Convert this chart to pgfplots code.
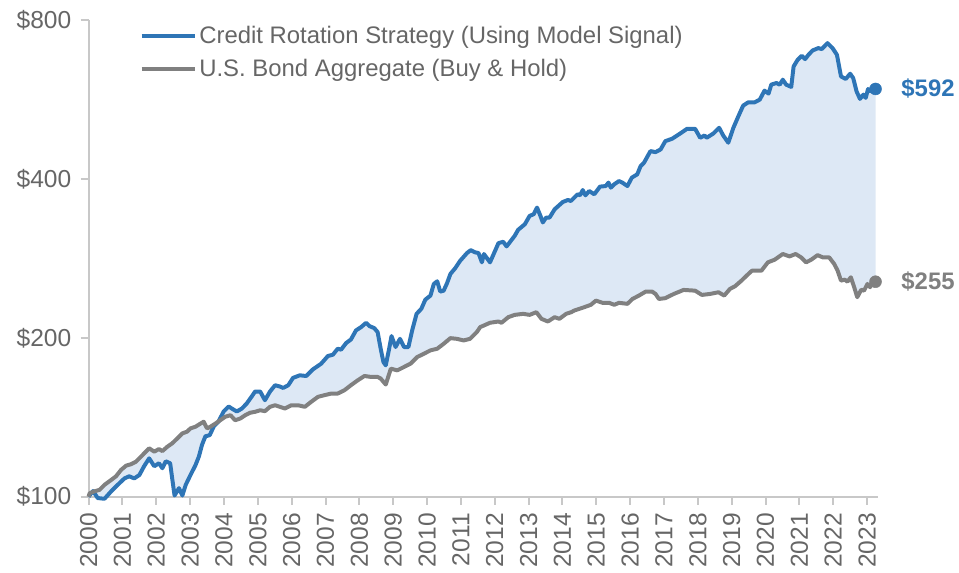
\documentclass[border=0pt]{standalone}
\usepackage{pgfplots}
\pgfplotsset{compat=1.18}
\usepgfplotslibrary{fillbetween}
\usepackage{fontspec}
\setmainfont{Liberation Sans}
\definecolor{cblue}{HTML}{2E75B6}
\definecolor{cgray}{HTML}{808080}
\definecolor{cfill}{HTML}{DDE8F5}
\definecolor{ctext}{HTML}{666666}
\definecolor{caxis}{HTML}{C8C8C8}

\pgfplotstableread{
x y
2000.00 100
2000.13 102.5
2000.27 99.4
2000.47 99.1
2000.67 102.4
2000.86 105.3
2001.06 108.3
2001.20 109.3
2001.35 108.3
2001.50 109.9
2001.64 114.2
2001.79 118.2
2001.94 114.2
2002.08 115.7
2002.18 113.2
2002.28 116.7
2002.41 115.7
2002.47 108.3
2002.54 100.5
2002.67 103.8
2002.77 100.5
2002.87 105.3
2003.01 109.9
2003.16 114.8
2003.26 119.2
2003.35 125.3
2003.45 130.1
2003.58 130.8
2003.70 135.9
2003.84 138.8
2003.99 145.0
2004.14 148.2
2004.23 146.9
2004.38 145.0
2004.53 146.9
2004.67 150.1
2004.82 154.8
2004.92 158.2
2005.07 158.2
2005.21 152.3
2005.36 158.2
2005.51 162.6
2005.65 161.7
2005.75 160.7
2005.90 162.6
2006.04 167.9
2006.24 169.8
2006.43 169.3
2006.63 174.3
2006.87 178.6
2007.07 184.7
2007.22 185.8
2007.36 190.7
2007.46 189.9
2007.61 195.5
2007.75 198.5
2007.90 206.5
2008.05 209.5
2008.20 213.5
2008.30 210.4
2008.44 208.6
2008.54 205.0
2008.63 190.7
2008.71 180.0
2008.78 177.3
2008.88 190.7
2008.95 201.5
2009.07 192.1
2009.20 199.1
2009.32 192.1
2009.45 192.1
2009.56 206.5
2009.69 222.0
2009.83 226.9
2009.95 236.2
2010.10 240.4
2010.20 252.9
2010.30 255.9
2010.39 244.6
2010.49 245.6
2010.59 253.7
2010.69 264.2
2010.83 270.8
2010.98 279.9
2011.18 289.4
2011.29 293.1
2011.42 290.3
2011.52 289.4
2011.62 277.9
2011.68 288.2
2011.86 277.9
2012.11 302.2
2012.25 304.0
2012.35 297.9
2012.59 312.0
2012.69 320.2
2012.89 328.2
2013.03 340.3
2013.15 342.8
2013.25 352.9
2013.35 340.3
2013.42 330.7
2013.52 337.9
2013.62 337.9
2013.77 350.3
2014.01 361.6
2014.16 364.8
2014.25 363.2
2014.45 374.0
2014.52 372.3
2014.60 381.0
2014.68 372.3
2014.79 379.4
2014.94 374.0
2015.11 386.7
2015.28 387.7
2015.36 393.5
2015.43 385.0
2015.53 390.6
2015.67 396.2
2015.77 393.5
2015.92 387.7
2016.05 402.1
2016.21 407.9
2016.31 422.9
2016.41 429.2
2016.60 451.4
2016.75 449.4
2016.90 454.7
2017.04 471.5
2017.24 476.4
2017.48 487.5
2017.68 497.5
2017.92 497.5
2018.07 478.4
2018.20 483.3
2018.26 478.4
2018.46 487.5
2018.63 499.7
2018.75 483.3
2018.90 468.2
2019.05 499.7
2019.19 524.2
2019.34 550.6
2019.49 558.5
2019.68 558.5
2019.83 565.1
2019.97 587.7
2020.09 580.1
2020.17 603.2
2020.32 607.6
2020.42 603.2
2020.51 616.4
2020.61 603.2
2020.76 597.2
2020.83 653.1
2020.95 672.4
2021.07 684.2
2021.17 674.4
2021.27 687.2
2021.39 700.2
2021.56 707.5
2021.66 704.4
2021.83 723.0
2021.98 707.5
2022.11 687.2
2022.23 625.3
2022.37 618.3
2022.50 632.7
2022.59 621.0
2022.69 585.9
2022.79 566.8
2022.89 577.5
2022.96 569.3
2023.03 592.0
2023.10 585.9
2023.25 592.0
}\credit

\pgfplotstableread{
x y
2000.00 100
2000.03 101.5
2000.18 102.4
2000.32 103.0
2000.47 105.3
2000.67 107.6
2000.81 109.3
2000.96 112.4
2001.11 114.5
2001.25 115.2
2001.40 116.5
2001.55 119.1
2001.69 121.7
2001.79 123.5
2001.94 121.7
2002.08 123.1
2002.18 122.0
2002.33 124.4
2002.47 126.2
2002.62 128.9
2002.77 131.8
2002.91 132.8
2003.01 134.7
2003.16 135.7
2003.31 137.6
2003.40 138.7
2003.50 134.7
2003.60 135.7
2003.75 137.6
2003.89 139.6
2004.04 141.7
2004.19 142.7
2004.33 139.6
2004.48 140.6
2004.63 142.7
2004.77 144.2
2004.92 144.8
2005.07 145.8
2005.21 145.2
2005.36 148.0
2005.51 149.0
2005.65 148.0
2005.80 146.9
2005.99 149.0
2006.19 149.0
2006.39 148.0
2006.58 151.3
2006.78 154.6
2006.97 155.7
2007.17 156.8
2007.36 156.8
2007.56 159.1
2007.75 162.6
2007.95 166.1
2008.15 169.3
2008.34 168.6
2008.54 168.6
2008.63 167.4
2008.78 163.1
2008.93 174.8
2009.12 173.5
2009.32 176.1
2009.51 178.6
2009.71 183.9
2009.91 186.6
2010.10 189.3
2010.30 190.7
2010.49 194.8
2010.69 199.7
2010.88 199.1
2011.08 197.7
2011.27 199.1
2011.47 205.0
2011.57 209.5
2011.86 213.5
2012.11 214.7
2012.20 213.5
2012.40 218.8
2012.59 221.0
2012.84 222.0
2013.03 221.0
2013.23 223.6
2013.38 217.2
2013.57 214.7
2013.77 218.8
2013.91 217.2
2014.11 222.0
2014.26 223.6
2014.35 225.2
2014.50 226.9
2014.65 228.6
2014.84 230.9
2014.99 235.2
2015.19 232.9
2015.38 232.9
2015.53 230.9
2015.67 232.9
2015.92 231.9
2016.07 236.9
2016.26 240.4
2016.46 244.6
2016.65 244.6
2016.75 242.1
2016.85 236.9
2017.04 237.7
2017.29 242.1
2017.58 246.4
2017.92 245.6
2018.12 241.1
2018.36 242.1
2018.61 243.9
2018.78 240.4
2018.95 247.5
2019.10 250.4
2019.29 256.6
2019.44 262.2
2019.60 268.0
2019.88 268.0
2020.07 277.9
2020.27 281.1
2020.51 288.2
2020.71 285.2
2020.89 288.2
2021.05 284.0
2021.20 277.9
2021.35 281.1
2021.54 286.8
2021.69 284.0
2021.88 284.0
2022.03 275.9
2022.13 268.0
2022.23 256.6
2022.34 257.7
2022.42 255.4
2022.52 260.4
2022.62 249.3
2022.71 238.7
2022.83 246.7
2022.91 245.6
2023.01 252.9
2023.09 249.3
2023.15 254.8
2023.25 255.4
}\bond

\begin{document}
\begin{tikzpicture}
\begin{axis}[
  at={(0,0)}, anchor=south west,
  scale only axis, width=594.75pt, height=359.25pt,
  set layers, clip=false,
  xmin=2000, xmax=2023.32,
  ymode=log, log basis y=2, ymin=100, ymax=800,
  ytick={100,200,400,800},
  yticklabels={\$100,\$200,\$400,\$800},
  xtick={2000,2001,...,2023},
  axis x line*=bottom, axis y line*=left,
  axis line style={caxis, line width=1.5pt, -},
  tick style={caxis, line width=1.5pt},
  tick align=outside, major tick length=6pt,
  minor tick num=0,
  tick label style={font=\fontsize{18.5}{22}\selectfont, text=ctext},
  /pgf/number format/assume math mode=true,
  /pgf/number format/1000 sep={},
  xticklabel style={rotate=90, anchor=east},
  xticklabel shift={3pt},
  yticklabel shift={3.5pt},
  legend style={draw=none, fill=none, at={(0.0643,0.992)}, anchor=north west,
    font=\fontsize{18}{21}\selectfont, text=ctext, inner sep=0pt,
    row sep=6pt, cells={anchor=west}},
  legend image code/.code={\draw[#1] (0pt,0pt) -- (40pt,0pt);},
]
\addplot[name path=A, cblue, line width=3pt, line join=round] table[x=x,y=y] {\credit};
\addlegendentry{Credit Rotation Strategy (Using Model Signal)}
\addplot[name path=B, cgray, line width=3pt, line join=round] table[x=x,y=y] {\bond};
\addlegendentry{U.S. Bond Aggregate (Buy \& Hold)}
\addplot[cfill, on layer=axis background, forget plot] fill between[of=A and B];
\addplot[only marks, mark=*, mark size=4.5pt, cblue, forget plot] coordinates {(2023.25,592)};
\addplot[only marks, mark=*, mark size=4.5pt, cgray, forget plot] coordinates {(2023.25,255.4)};
\node[anchor=west, text=cblue, font=\fontsize{18}{21}\selectfont\bfseries, xshift=16pt] at (axis cs:2023.25,592) {\$592};
\node[anchor=west, text=cgray, font=\fontsize{18}{21}\selectfont\bfseries, xshift=16pt] at (axis cs:2023.25,255.4) {\$255};
\end{axis}
\path (-66.75pt,-53.25pt) rectangle (652.5pt,374.25pt);
\end{tikzpicture}
\end{document}
